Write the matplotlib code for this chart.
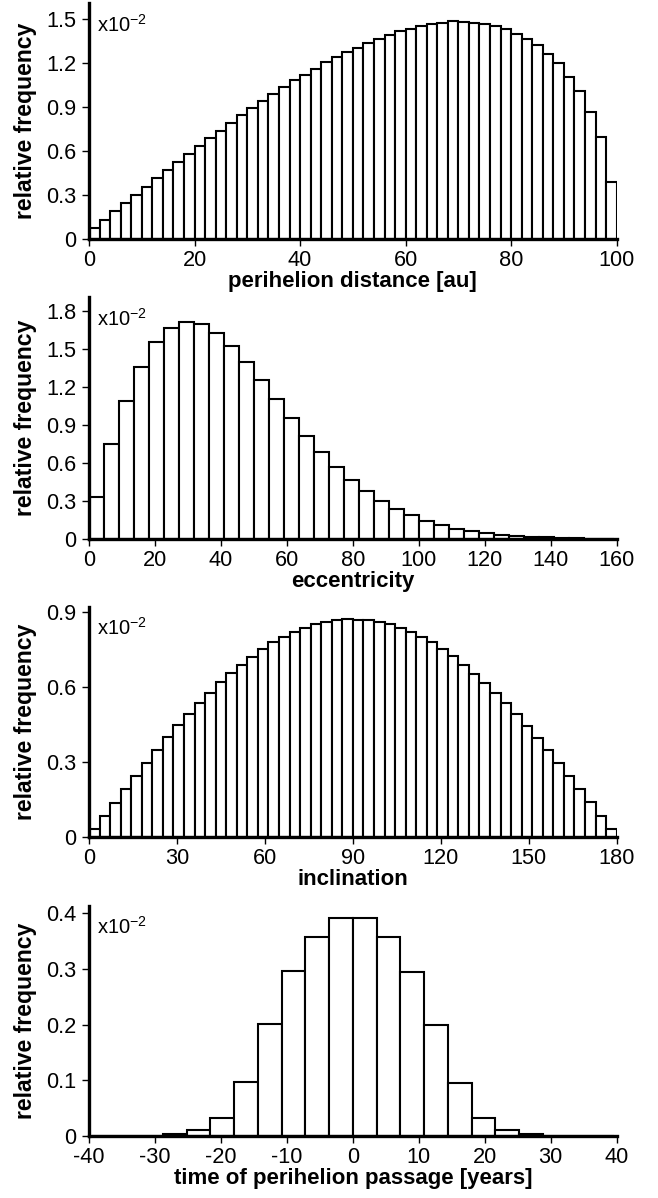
import numpy as np
import matplotlib
matplotlib.use("Agg")
import matplotlib.pyplot as plt
from matplotlib.ticker import FuncFormatter

# --- data (relative frequency, in units of 1e-2) ---
peri_start, peri_width = 0.0, 2.0
peri_freq = [0.075, 0.134, 0.19, 0.247, 0.304, 0.358, 0.415, 0.472, 0.526, 0.581,
             0.638, 0.692, 0.74, 0.792, 0.844, 0.894, 0.942, 0.989, 1.035, 1.082,
             1.121, 1.162, 1.205, 1.241, 1.273, 1.305, 1.337, 1.366, 1.391, 1.416,
             1.434, 1.452, 1.466, 1.475, 1.484, 1.482, 1.477, 1.468, 1.45, 1.43,
             1.402, 1.368, 1.321, 1.264, 1.198, 1.107, 1.01, 0.869, 0.694, 0.388]

ecc_start, ecc_width = 0.0, 4.55
ecc_freq = [0.331, 0.748, 1.089, 1.36, 1.554, 1.667, 1.709, 1.696, 1.627, 1.522,
            1.394, 1.252, 1.102, 0.955, 0.816, 0.685, 0.567, 0.467, 0.378, 0.304,
            0.241, 0.189, 0.147, 0.113, 0.084, 0.062, 0.047, 0.036, 0.026, 0.02,
            0.015, 0.012, 0.009, 0.006, 0.004]

inc_start, inc_width = 0.0, 3.6
inc_freq = [0.029, 0.083, 0.136, 0.191, 0.244, 0.296, 0.348, 0.399, 0.445, 0.489,
            0.536, 0.575, 0.619, 0.655, 0.688, 0.72, 0.749, 0.777, 0.8, 0.817,
            0.836, 0.852, 0.86, 0.867, 0.869, 0.868, 0.867, 0.859, 0.849, 0.836,
            0.819, 0.799, 0.777, 0.749, 0.721, 0.688, 0.652, 0.616, 0.573, 0.535,
            0.491, 0.444, 0.396, 0.345, 0.295, 0.243, 0.191, 0.14, 0.084, 0.029]

time_start, time_width = -39.6, 3.6
time_freq = [0.0, 0.0, 0.0005, 0.003, 0.01, 0.033, 0.097, 0.201, 0.296, 0.358,
             0.391, 0.391, 0.358, 0.295, 0.199, 0.095, 0.032, 0.011, 0.004, 0.0005,
             0.0, 0.0]

x_labels = ["perihelion distance [au]", "eccentricity", "inclination",
            "time of perihelion passage [years]"]
x_ticks = [np.arange(0, 101, 20), np.arange(0, 161, 20),
           np.arange(0, 181, 30), np.arange(-40, 41, 10)]
y_ticks = [np.arange(0, 1.51, 0.3), np.arange(0, 1.81, 0.3),
           np.arange(0, 0.91, 0.3), np.arange(0, 0.41, 0.1)]

plt.rcParams["font.family"] = ["Liberation Sans", "DejaVu Sans"]
plt.rcParams["axes.unicode_minus"] = False
plt.rcParams["mathtext.default"] = "regular"

W, H = 658, 1198
fig = plt.figure(figsize=(W / 100, H / 100), dpi=100)

# axes boxes in pixels: (left, right, top, bottom)
boxes = [(89, 616.7, 3, 239.3), (89, 616.7, 296.7, 539.3),
         (89, 616.7, 606.7, 836.7), (89, 616.7, 906, 1136)]
ylims = [1.61, 1.91, 0.92, 0.413]

series = [(peri_start, peri_width, peri_freq), (ecc_start, ecc_width, ecc_freq),
          (inc_start, inc_width, inc_freq), (time_start, time_width, time_freq)]


def yfmt(v, pos):
    return "0" if abs(v) < 1e-9 else f"{v:.1f}"


for i, ((l, r, t, b), (start, width, freq)) in enumerate(zip(boxes, series)):
    ax = fig.add_axes([l / W, 1 - b / H, (r - l) / W, (b - t) / H])
    lefts = start + width * np.arange(len(freq))
    ax.bar(lefts, freq, width=width, align="edge", color="white",
           edgecolor="black", linewidth=1.5, zorder=2)
    ax.set_xlim(x_ticks[i][0], x_ticks[i][-1])
    ax.set_ylim(0, ylims[i])
    ax.set_xticks(x_ticks[i])
    ax.set_yticks(y_ticks[i])
    ax.yaxis.set_major_formatter(FuncFormatter(yfmt))
    for s in ("top", "right"):
        ax.spines[s].set_visible(False)
    for s in ("left", "bottom"):
        ax.spines[s].set_linewidth(2.4)
        ax.spines[s].set_zorder(3)
    ax.tick_params(axis="both", direction="out", length=5, width=1.0,
                   labelsize=15.7, pad=3)
    ax.tick_params(axis="y", pad=4)
    ax.set_xlabel(x_labels[i], fontsize=16, fontweight="bold", labelpad=0)
    ax.set_ylabel("relative frequency", fontsize=16.6, fontweight="bold")
    ax.yaxis.set_label_coords(-0.098, 0.5)
    ax.text(0.015, 0.955, "x10$^{-2}$", transform=ax.transAxes,
            fontsize=14.5, ha="left", va="top")

fig.savefig("out.png", dpi=100)
